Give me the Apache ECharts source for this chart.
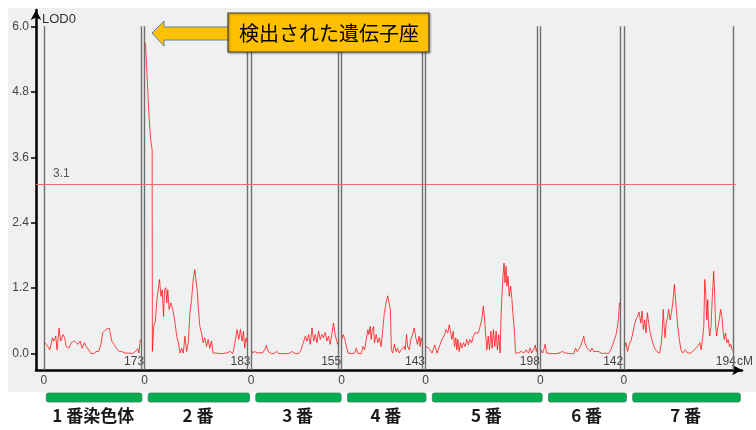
<!DOCTYPE html>
<html>
<head>
<meta charset="utf-8">
<style>
  html, body { margin: 0; padding: 0; background: #fff; }
  #chart { width: 756px; height: 430px; }
</style>
<script src="https://cdn.jsdelivr.net/npm/echarts@6/dist/echarts.min.js"></script>
</head>
<body>
<div id="chart"></div>
<script>
// chromosome names and lengths (cM)
const chromNames = ['1 番染色体', '2 番', '3 番', '4 番', '5 番', '6 番', '7 番'];
const chromLengths = [173, 183, 155, 143, 198, 142, 194];

// LOD profile per chromosome: [cM, LOD]
const lod1 = [[0, 0.21], [4.7, 0.17], [10.5, 0.07], [15.2, 0.29], [17.6, 0.23], [21.1, 0.32], [23.4, 0.07],
  [27, 0.47], [29.9, 0.23], [34, 0.35], [36.9, 0.29], [39.8, 0.13], [44.5, 0.1], [48.6, 0.2], [54.4, 0.23],
  [60.3, 0.17], [64.4, 0.23], [67.9, 0.1], [72, 0.2], [76, 0.12], [79.6, 0.07], [83.7, 0], [89.5, 0],
  [92.5, 0.04], [97.2, 0.04], [101.3, 0.17], [104.2, 0.38], [110, 0.44], [116, 0.47], [118.9, 0.44],
  [120.6, 0.23], [124.7, 0.17], [128.8, 0.1], [133.5, 0.04], [138.2, 0.04], [144, 0.01], [151, 0.01],
  [157, 0], [162.9, 0.04], [166.4, 0.09], [168.8, 0.01], [171.1, 0.25], [173, 0.26]];
const lod2 = [[1.4, 5.7], [3.7, 5.21], [6.3, 4.66], [8.1, 4.29], [10.7, 3.93], [13.3, 3.74], [13.7, 0.04],
  [16, 0.5], [18.9, 0.59], [21.8, 0.99], [24.8, 1.23], [26.5, 1.36], [28.8, 1.05], [31.2, 1.17], [33.5, 0.68],
  [35.3, 1.16], [37.6, 1.21], [39.4, 0.93], [41.1, 1.17], [43.5, 0.81], [46.4, 0.93], [49.9, 0.81], [54, 0.56],
  [56.9, 0.32], [59.9, 0.2], [62.8, 0.01], [65.7, 0.1], [68.6, 0.01], [71.6, 0.32], [74.5, 0.04], [77.5, 0.2],
  [80.4, 0.75], [83.3, 0.99], [86.2, 1.36], [89.2, 1.54], [91, 1.36], [93.3, 1.17], [95.1, 0.87], [98, 0.5],
  [101, 0.38], [103.9, 0.2], [106.8, 0.29], [109.8, 0.13], [112.7, 0.26], [115.6, 0.1], [118.6, 0.23],
  [121.5, 0.01], [127.4, 0.01], [136.1, 0], [144.9, 0.01], [152, 0.04], [156.6, 0], [161.3, 0.26],
  [164.2, 0.44], [167.1, 0.26], [170.1, 0.44], [173, 0.23], [175.4, 0.41], [177.7, 0.1], [180, 0.29],
  [182.4, 0.2], [183, 0.25]];
const lod3 = [[0.9, 0.07], [2.6, 0.01], [6.7, 0.04], [11.4, 0.01], [16.1, 0.02], [20.2, 0.01], [24.3, 0.07],
  [27.2, 0.15], [30.2, 0.04], [32.5, 0.07], [36, 0], [40.7, 0], [45.4, 0.04], [49.5, 0], [58.3, 0], [67.1, 0],
  [73, 0.04], [78.8, 0], [84.7, 0], [88.8, 0.07], [93.5, 0.23], [96.4, 0.32], [99.4, 0.23], [102.3, 0.35],
  [105.2, 0.17], [108.2, 0.47], [111.1, 0.23], [114.1, 0.35], [117, 0.2], [119.9, 0.41], [122.9, 0.26],
  [125.8, 0.35], [128.7, 0.29], [131.7, 0.39], [134.6, 0.23], [137.5, 0.32], [140.5, 0.17], [143.4, 0.35],
  [146.4, 0.56], [149.3, 0.35], [152.2, 0.23], [154, 0.17], [155, 0.2]];
const lod4 = [[0, 0.26], [2.6, 0.35], [5.5, 0.26], [8.4, 0.13], [11.4, 0.01], [17.2, 0], [23.1, 0.01],
  [26, 0.1], [28.9, 0], [34.8, 0], [37.7, 0.13], [40.7, 0.07], [43.6, 0.26], [46.5, 0.44], [48.3, 0.35],
  [50.6, 0.5], [52.4, 0.26], [54.1, 0.41], [56.5, 0.5], [58.2, 0.2], [61.2, 0.35], [64.1, 0.2], [67, 0.29],
  [70, 0.13], [72.9, 0.44], [75.8, 0.75], [78.8, 0.93], [81.7, 1.06], [84.6, 1.06], [86.4, 0.81], [88.2, 0.07],
  [90.5, 0.01], [93.4, 0.17], [96.4, 0.04], [99.3, 0.1], [102.3, 0.01], [105.2, 0.07], [108.1, 0.04],
  [111.1, 0.13], [112.8, 0.07], [115.2, 0.35], [117, 0.13], [119.9, 0.07], [122.8, 0.26], [125.8, 0.35],
  [128.7, 0.47], [131.6, 0.29], [134.6, 0.17], [137.5, 0.32], [139.3, 0.13], [141, 0.29], [143, 0.2]];
const lod5 = [[0, 0.13], [5.7, 0.1], [11.5, 0.01], [16.2, 0.16], [20.3, 0.01], [24.4, 0.13], [29.1, 0.26],
  [33.8, 0.35], [36.1, 0.44], [39.6, 0.38], [42, 0.53], [44.3, 0.41], [46.7, 0.26], [49, 0.41], [51.4, 0.13],
  [53.7, 0.29], [55.5, 0.07], [57.2, 0.26], [59.6, 0.04], [61.9, 0.2], [64.3, 0.1], [67.2, 0.2], [70.1, 0.13],
  [73.1, 0.26], [76, 0.16], [78.9, 0.26], [81.9, 0.2], [84.8, 0.32], [87.7, 0.38], [90.7, 0.41], [93.6, 0.38],
  [96.5, 0.41], [98.3, 0.56], [100.6, 0.68], [102.4, 0.87], [104.1, 0.72], [106.5, 0.38], [108.8, 0.07],
  [111.2, 0.32], [113.5, 0.07], [115.9, 0.41], [118.2, 0.1], [120.5, 0.44], [122.9, 0.13], [125.2, 0.41],
  [127.6, 0.07], [129.9, 0.35], [132.3, 0.01], [134, 0.68], [135.8, 1.11], [137.5, 1.42], [139.3, 1.66],
  [141, 1.3], [142.8, 1.6], [144.5, 1.24], [146.3, 1.42], [148.6, 1.05], [151, 1.24], [153.3, 0.99],
  [155.6, 0.68], [158, 0.38], [159.7, 0.01], [163.8, 0.01], [169.7, 0.04], [174.3, 0.01], [178.4, 0.07],
  [182.5, 0.01], [186, 0.1], [188.4, 0.01], [191.9, 0.07], [194.8, 0.16], [196.6, 0.04], [198, 0.1]];
const lod6 = [[0.8, 0.07], [3.7, 0.01], [6.6, 0.1], [8.4, 0.17], [10.7, 0.01], [18.3, 0], [27.1, 0],
  [33, 0.01], [38.8, 0.04], [44.7, 0.01], [53.5, 0], [59.3, 0], [62.3, 0.1], [65.2, 0.04], [68.2, 0.08],
  [71.1, 0.13], [74, 0.22], [77, 0.32], [78.7, 0.2], [81.1, 0.17], [82.8, 0.1], [85.8, 0.13], [88.7, 0.04],
  [91.6, 0.1], [94.6, 0.04], [97.5, 0.01], [103.4, 0.04], [109.2, 0], [115.1, 0.01], [120.9, 0], [125, 0.07],
  [128.5, 0.17], [131.5, 0.26], [134.4, 0.35], [136.8, 0.5], [138.5, 0.62], [140.3, 0.93], [142, 0.9]];
const lod7 = [[0.3, 0.07], [3.8, 0.2], [6.7, 0.04], [9.7, 0.17], [12.6, 0.23], [15.5, 0.35], [18.4, 0.5],
  [21.4, 0.62], [24.3, 0.68], [27.2, 0.76], [30.2, 0.56], [32.5, 0.78], [34.8, 0.44], [37.2, 0.62], [39.5, 0.38],
  [41.9, 0.75], [44.2, 0.56], [47.1, 0.38], [50.6, 0.23], [54.7, 0.1], [58.8, 0.04], [63.5, 0.01], [66.4, 0.17],
  [68.2, 0.38], [70, 0.81], [71.7, 0.5], [73.5, 0.29], [75.2, 0.56], [77.6, 0.65], [79.9, 0.81], [82.3, 0.62],
  [84.6, 0.75], [87, 0.93], [89.9, 1.27], [91.7, 1.24], [93.4, 0.81], [95.8, 0.5], [98.7, 0.26], [101.6, 0.07],
  [104.6, 0.01], [109.3, 0.07], [113.4, 0.01], [119.2, 0.01], [125.1, 0.07], [131, 0.13], [135.1, 0.2],
  [137.4, 0.07], [139.8, 0.26], [142.1, 0.5], [143.9, 1.36], [145.6, 1.11], [147.4, 0.62], [149.1, 0.99],
  [150.9, 0.5], [152.7, 0.32], [155, 0.5], [157.3, 1.05], [159.7, 1.51], [161.4, 1.11], [163.2, 0.5],
  [164.9, 0.32], [167.3, 0.5], [169.6, 0.62], [172, 0.81], [174.3, 0.68], [176.1, 0.44], [178.4, 0.26],
  [180.8, 0.38], [183.1, 0.2], [185.4, 0.26], [187.8, 0.13], [190.1, 0.17], [192.5, 0.07], [194, 0.05]];
const lodByChrom = [lod1, lod2, lod3, lod4, lod5, lod6, lod7];

const threshold = 3.1;
const yTickValues = [0, 1.2, 2.4, 3.6, 4.8, 6.0];

// chromosomes are laid end to end with a small gap
const GAP = 6;
const offsets = [];
let acc = 0;
chromLengths.forEach(len => { offsets.push(acc); acc += len + GAP; });
const totalEnd = offsets[offsets.length - 1] + chromLengths[chromLengths.length - 1];
const xMin = -14, xMax = 1240;
const yMin = -0.3, yMax = 6.3;

const starts = offsets.slice();
const ends = offsets.map((o, i) => o + chromLengths[i]);
const centers = offsets.map((o, i) => o + chromLengths[i] / 2);
const endLabelPos = ends.map(e => e + 5);

function labelFor(list, texts) {
  return function (v) {
    const i = list.findIndex(x => Math.abs(x - v) < 0.01);
    return i < 0 ? '' : texts[i];
  };
}

const lineColor = 'rgba(255,0,0,0.72)';
const boundaryLines = [];
starts.forEach(s => boundaryLines.push([{coord: [s, yMin]}, {coord: [s, 6.0]}]));
ends.forEach(e => boundaryLines.push([{coord: [e, yMin]}, {coord: [e, 6.0]}]));

const series = lodByChrom.map((pts, i) => ({
  type: 'line',
  xAxisIndex: 0,
  yAxisIndex: 0,
  data: pts.map(p => [offsets[i] + p[0], p[1]]),
  showSymbol: false,
  symbol: 'none',
  lineStyle: {color: lineColor, width: 1},
  z: 3
}));

series[0].markLine = {
  silent: true,
  symbol: 'none',
  animation: false,
  lineStyle: {color: '#6e6e6e', width: 1.4, type: 'solid'},
  label: {show: false},
  data: boundaryLines
};

series[1].markLine = {
  silent: true,
  symbol: 'none',
  animation: false,
  lineStyle: {color: '#f06a6a', width: 1, type: 'solid'},
  label: {
    show: true,
    position: 'insideStartTop',
    formatter: String(threshold),
    color: '#555',
    fontFamily: 'Liberation Sans',
    fontSize: 12,
    padding: [0, 0, 0, 12]
  },
  data: [[{coord: [xMin, threshold]}, {coord: [totalEnd + 5, threshold]}]]
};

// green bars under each chromosome
series.push({
  type: 'custom',
  xAxisIndex: 2,
  yAxisIndex: 1,
  data: starts.map((s, i) => [s + 4, ends[i] - 1]),
  renderItem: function (params, api) {
    const p0 = api.coord([api.value(0), 1]);
    const p1 = api.coord([api.value(1), 0]);
    return {
      type: 'rect',
      shape: {x: p0[0], y: p0[1], width: p1[0] - p0[0], height: p1[1] - p0[1], r: 2},
      style: {fill: '#00b050', stroke: '#3f7a63', lineWidth: 0.8}
    };
  },
  silent: true
});

const chart = echarts.init(document.getElementById('chart'), null, {renderer: 'canvas'});
chart.setOption({
  animation: false,
  backgroundColor: '#ffffff',
  grid: [
    {left: 36, right: 6, top: 10, bottom: 60},
    {left: 36, right: 6, top: 393, height: 9}
  ],
  xAxis: [
    {
      type: 'value', gridIndex: 0, min: xMin, max: xMax, position: 'bottom',
      name: 'cM', nameLocation: 'end', nameGap: -5,
      nameTextStyle: {color: '#444', fontFamily: 'Liberation Sans', fontSize: 12, align: 'left', verticalAlign: 'bottom', padding: [0, 0, 2, 0]},
      axisLine: {show: true, onZero: false, lineStyle: {color: '#000', width: 2.5}, symbol: ['none', 'arrow'], symbolSize: [8, 10]},
      axisTick: {show: false},
      splitLine: {show: false},
      axisLabel: {
        customValues: starts, formatter: () => '0',
        color: '#444', fontFamily: 'Liberation Sans', fontSize: 12, margin: 5
      }
    },
    {
      type: 'value', gridIndex: 0, min: xMin, max: xMax, position: 'bottom',
      axisLine: {show: false, onZero: false}, axisTick: {show: false}, splitLine: {show: false},
      axisLabel: {
        inside: true, customValues: endLabelPos, formatter: labelFor(endLabelPos, chromLengths.map(String)),
        align: 'right', color: '#444', fontFamily: 'Liberation Sans', fontSize: 12, margin: 2
      }
    },
    {
      type: 'value', gridIndex: 1, min: xMin, max: xMax, position: 'bottom',
      axisLine: {show: false, onZero: false}, axisTick: {show: false}, splitLine: {show: false},
      axisLabel: {
        customValues: centers, formatter: labelFor(centers, chromNames),
        color: '#1a1a1a', fontFamily: 'Noto Sans CJK JP', fontWeight: 'bold', fontSize: 17, margin: 5
      }
    }
  ],
  yAxis: [
    {
      type: 'value', gridIndex: 0, min: yMin, max: yMax,
      name: 'LOD0', nameLocation: 'end', nameGap: -9,
      nameTextStyle: {color: '#333', fontFamily: 'Liberation Sans', fontSize: 13, align: 'left', verticalAlign: 'middle', padding: [0, 0, 0, 6]},
      axisLine: {show: true, onZero: false, lineStyle: {color: '#000', width: 2.5}, symbol: ['none', 'arrow'], symbolSize: [8, 10]},
      axisTick: {show: true, customValues: yTickValues, length: 5, lineStyle: {color: '#000', width: 1.5}},
      splitLine: {show: false},
      axisLabel: {
        customValues: yTickValues, formatter: v => v.toFixed(1),
        color: '#444', fontFamily: 'Liberation Sans', fontSize: 12, margin: 7
      }
    },
    {
      type: 'value', gridIndex: 1, min: 0, max: 1, show: false
    }
  ],
  graphic: [
    {type: 'rect', z: -10, silent: true, shape: {x: 8, y: 8, width: 748, height: 384}, style: {fill: '#f0f0f0'}},
    {
      type: 'polygon', z: 50, silent: true,
      shape: {points: [[152, 33], [164, 21], [164, 27], [230, 27], [230, 40], [164, 40], [164, 46]]},
      style: {fill: '#ffc000', stroke: '#5a7fa6', lineWidth: 1}
    },
    {
      type: 'rect', z: 51, silent: true,
      shape: {x: 228, y: 13, width: 201, height: 39},
      style: {fill: '#ffc000', stroke: '#404040', lineWidth: 1.2, shadowBlur: 2, shadowOffsetX: 1, shadowOffsetY: 1, shadowColor: 'rgba(0,0,0,0.35)'}
    },
    {
      type: 'text', z: 52, silent: true,
      x: 329, y: 33,
      style: {text: '検出された遺伝子座', fill: '#000', font: '20px "Noto Sans CJK JP"', align: 'center', verticalAlign: 'middle'}
    }
  ],
  series: series
});
</script>
</body>
</html>
